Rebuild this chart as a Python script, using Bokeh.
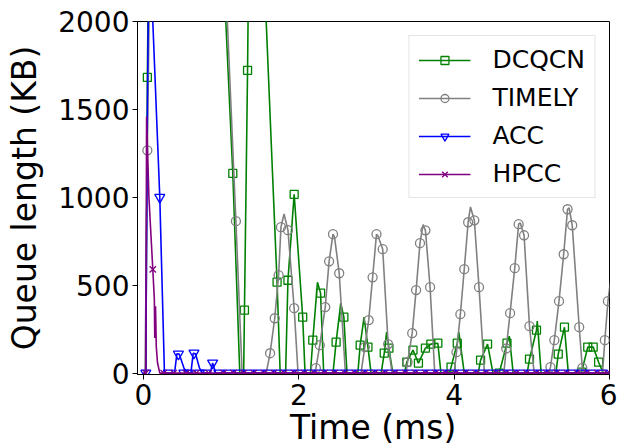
from bokeh.plotting import figure
from bokeh.models import Range1d, FixedTicker, Legend, LegendItem
from bokeh.layouts import column
from bokeh.core.properties import value
from bokeh.embed import file_html
from bokeh.resources import INLINE

# ---------------- data ----------------
# DCQCN line (ms, KB); values above 2000 are clipped by the frame
dcqcn_x = [0.0, 0.03, 0.05, 0.07, 1.0, 1.06, 1.15, 1.24, 1.29, 1.30, 1.34, 1.36, 1.55, 1.58, 1.66,
           1.72, 1.76, 1.83, 1.86, 1.94, 2.05, 2.08, 2.15, 2.18, 2.24, 2.28, 2.32, 2.44, 2.48,
           2.54, 2.58, 2.62, 2.76, 2.79, 2.84, 2.89, 2.93, 3.06, 3.10, 3.13, 3.16, 3.21, 3.36,
           3.39, 3.47, 3.54, 3.63, 3.70, 3.79, 3.83, 3.94, 3.96, 4.04, 4.06, 4.13, 4.31, 4.34,
           4.43, 4.50, 4.58, 4.68, 4.71, 4.76, 4.94, 4.97, 5.06, 5.07, 5.12, 5.31, 5.34, 5.42,
           5.47, 5.64, 5.72, 5.79, 5.86, 5.92, 6.05]
dcqcn_y = [0, 0, 1682, 2600, 2600, 2000, 1136, 0, 0, 358, 1722, 2600, 2600, 2000, 1150,
           517, 0, 0, 528, 1017, 318, 0, 0, 187, 517, 455, 0, 0, 176,
           398, 318, 0, 0, 159, 318, 148, 0, 0, 114, 233, 142, 0, 0,
           62, 131, 57, 142, 165, 170, 0, 0, 34, 170, 233, 0, 0, 74,
           165, 0, 0, 170, 210, 0, 0, 80, 244, 296, 0, 0, 108, 261,
           0, 5, 148, 148, 62, 0, 0]
dcqcn_mx = [0.05, 1.15, 1.30, 1.34, 1.72, 1.86, 1.94, 2.05, 2.18, 2.28, 2.48, 2.58, 2.79, 2.89,
            3.10, 3.16, 3.39, 3.47, 3.54, 3.63, 3.70, 3.79, 3.96, 4.04, 4.34, 4.43, 4.58, 4.68,
            4.97, 5.06, 5.34, 5.42, 5.64, 5.72, 5.79, 5.86]
dcqcn_my = [1682, 1136, 358, 1722, 517, 528, 1017, 318, 187, 455, 176, 318, 159, 148,
            114, 142, 62, 131, 57, 142, 165, 170, 34, 170, 74, 165, 0, 170,
            80, 244, 108, 261, 5, 148, 148, 62]

# TIMELY line
timely_x = [0.0, 0.02, 0.05, 0.09, 1.0, 1.08, 1.19, 1.27, 1.58, 1.63, 1.69, 1.74, 1.77, 1.81, 1.86,
            1.94, 1.99, 2.20, 2.22, 2.27, 2.34, 2.39, 2.44, 2.46, 2.52, 2.60, 2.80, 2.85, 2.90,
            2.95, 3.00, 3.02, 3.08, 3.15, 3.20, 3.38, 3.40, 3.46, 3.51, 3.56, 3.60, 3.63, 3.69,
            3.75, 4.00, 4.03, 4.08, 4.13, 4.18, 4.21, 4.26, 4.32, 4.39, 4.64, 4.67, 4.72, 4.78,
            4.83, 4.85, 4.90, 4.97, 5.03, 5.22, 5.24, 5.29, 5.35, 5.41, 5.46, 5.48, 5.52, 5.61,
            5.65, 5.67, 5.91, 5.94, 5.98, 6.05]
timely_y = [0, 0, 1267, 2600, 2600, 2000, 864, 0, 0, 113, 312, 557, 830, 905, 813,
            369, 0, 0, 28, 159, 375, 636, 790, 773, 568, 0, 0, 148, 301,
            545, 790, 780, 705, 165, 0, 0, 62, 227, 472, 739, 845, 812, 489,
            0, 0, 119, 335, 591, 858, 945, 869, 489, 0, 0, 140, 341, 597,
            847, 855, 784, 267, 0, 0, 34, 187, 409, 676, 932, 940, 841, 261,
            30, 0, 0, 187, 409, 650]
timely_mx = [0.05, 1.19, 1.63, 1.69, 1.74, 1.77, 1.86, 1.94, 2.22, 2.27, 2.34, 2.39, 2.44, 2.52,
             2.85, 2.90, 2.95, 3.00, 3.08, 3.15, 3.40, 3.46, 3.51, 3.56, 3.63, 3.69, 4.03, 4.08,
             4.13, 4.18, 4.26, 4.32, 4.67, 4.72, 4.78, 4.83, 4.90, 4.97, 5.24, 5.29, 5.35, 5.41,
             5.46, 5.52, 5.61, 5.65, 5.94, 5.98]
timely_my = [1267, 864, 113, 312, 557, 830, 813, 369, 28, 159, 375, 636, 790, 568,
             148, 301, 545, 790, 705, 165, 62, 227, 472, 739, 812, 489, 119, 335,
             591, 858, 869, 489, 140, 341, 597, 847, 784, 267, 34, 187, 409, 676,
             932, 841, 261, 30, 187, 409]

# ACC line
acc_x = [0.0, 0.03, 0.05, 0.07, 0.10, 0.12, 0.21, 0.27, 0.40, 0.43, 0.46, 0.52, 0.56, 0.61, 0.64,
         0.67, 0.72, 0.76, 0.86, 0.89, 0.93, 6.05]
acc_y = [0, 0, 1500, 2400, 2450, 2000, 1000, 0, 0, 110, 108, 30, 0, 0, 112,
         110, 30, 0, 0, 57, 0, 0]
acc_mx = [0.03, 0.21, 0.45, 0.65, 0.89]
acc_my = [0, 1000, 108, 114, 57]
acc_base_x = [0.32, 0.52, 0.58, 0.72, 0.80, 0.97, 1.10, 1.23, 1.36, 1.49, 1.62, 1.75, 1.88, 2.01,
              2.14, 2.27, 2.40, 2.53, 2.66, 2.79, 2.92, 3.05, 3.18, 3.31, 3.44, 3.57, 3.70, 3.83,
              3.96, 4.09, 4.22, 4.35, 4.48, 4.61, 4.74, 4.87, 5.00, 5.13, 5.26, 5.39, 5.52, 5.65,
              5.78, 5.91]

# HPCC line
hpcc_x = [0.0, 0.03, 0.04, 0.07, 0.12, 0.14, 0.145, 0.155, 0.165, 0.18, 0.21, 6.05]
hpcc_y = [0, 0, 1460, 1000, 590, 420, 200, 380, 150, 60, 0, 0]
hpcc_mx = [0.03, 0.12]
hpcc_my = [0, 590]
hpcc_base_x = [0.26, 0.39, 0.55, 0.68, 0.84, 1.03, 1.16, 1.29, 1.42, 1.55, 1.68, 1.81, 1.94, 2.07,
               2.20, 2.33, 2.46, 2.59, 2.72, 2.85, 2.98, 3.11, 3.24, 3.37, 3.50, 3.63, 3.76, 3.89,
               4.02, 4.15, 4.28, 4.41, 4.54, 4.67, 4.80, 4.93, 5.06, 5.19, 5.32, 5.45, 5.58, 5.71,
               5.84, 5.97]

x_ticks = [0, 2, 4, 6]
y_ticks = [0, 500, 1000, 1500, 2000]
series_names = ["DCQCN", "TIMELY", "ACC", "HPCC"]
x_title = "Time (ms)"
y_title = "Queue length (KB)"

# ---------------- main figure ----------------
FONT = "DejaVu Sans"
p = figure(width=617, height=446, x_range=Range1d(-0.077, 6.0), y_range=Range1d(-8, 2000),
           output_backend="svg", toolbar_location=None,
           min_border_left=137, min_border_right=8, min_border_top=21, min_border_bottom=72)
p.background_fill_color = "white"
p.border_fill_color = "white"
p.outline_line_color = "black"
p.outline_line_width = 1
p.grid.visible = False

for ax in (p.xaxis[0], p.yaxis[0]):
    ax.major_label_text_font = FONT
    ax.major_label_text_font_size = "28px"
    ax.major_label_text_color = "black"
    ax.axis_label_text_font = FONT
    ax.axis_label_text_font_size = "33px"
    ax.axis_label_text_font_style = "normal"
    ax.axis_label_text_color = "black"
    ax.major_tick_out = 5
    ax.major_tick_in = 0
    ax.minor_tick_out = 0
    ax.minor_tick_in = 0
    ax.axis_line_color = "black"
    ax.major_tick_line_color = "black"

p.xaxis.ticker = FixedTicker(ticks=x_ticks)
p.yaxis.ticker = FixedTicker(ticks=y_ticks)
p.yaxis.axis_label = y_title
p.xaxis.major_label_standoff = 4
p.yaxis.major_label_standoff = 3
p.yaxis.axis_label_standoff = 11

LW = 1.6
MS = 9

g_line = p.line(dcqcn_x, dcqcn_y, line_color="green", line_width=LW)
g_mark = p.scatter(dcqcn_mx, dcqcn_my, marker="square", size=MS - 1, line_color="green",
                   fill_color=None, line_width=1.3)

t_line = p.line(timely_x, timely_y, line_color="grey", line_width=LW)
t_mark = p.scatter(timely_mx, timely_my, marker="circle", size=MS, line_color="grey",
                   fill_color=None, line_width=1.3)

a_line = p.line(acc_x, acc_y, line_color="blue", line_width=LW)
a_mark = p.scatter(acc_mx, acc_my, marker="inverted_triangle", size=MS + 1, line_color="blue",
                   fill_color=None, line_width=1.3)
a_base = p.scatter(acc_base_x, [0] * len(acc_base_x), marker="inverted_triangle", size=MS + 1,
                   line_color="blue", fill_color=None, line_width=1.3)

h_line = p.line(hpcc_x, hpcc_y, line_color="purple", line_width=LW)
h_mark = p.scatter(hpcc_mx, hpcc_my, marker="x", size=MS, line_color="purple", line_width=1.3)
h_base = p.scatter(hpcc_base_x, [0] * len(hpcc_base_x), marker="x", size=MS,
                   line_color="purple", line_width=1.3)

legend = Legend(items=[
    LegendItem(label=series_names[0], renderers=[g_line, g_mark]),
    LegendItem(label=series_names[1], renderers=[t_line, t_mark]),
    LegendItem(label=series_names[2], renderers=[a_line, a_mark]),
    LegendItem(label=series_names[3], renderers=[h_line, h_mark]),
], location="top_right")
legend.margin = 14
legend.padding = 9
legend.spacing = 9
legend.glyph_width = 52
legend.glyph_height = 20
legend.label_standoff = 22
legend.label_text_font = FONT
legend.label_text_font_size = "25px"
legend.label_text_color = "black"
legend.border_line_color = "#cccccc"
legend.border_line_width = 1
legend.background_fill_color = "white"
legend.background_fill_alpha = 0.8
p.add_layout(legend)

# ---------------- transparent strip overlapping the bottom border: x-axis title ----------------
q = figure(width=617, height=44, x_range=Range1d(0, 617), y_range=Range1d(0, 44),
           output_backend="svg", toolbar_location=None,
           x_axis_location=None, y_axis_location=None,
           min_border_left=0, min_border_right=0, min_border_top=0, min_border_bottom=0)
q.grid.visible = False
q.outline_line_color = None
q.background_fill_alpha = 0
q.border_fill_alpha = 0
q.margin = (-44, 0, 0, 0)
q.text(x=[308], y=[19], text=[x_title], text_align="center", text_baseline="middle",
       text_font=value(FONT), text_font_size=value("33px"), text_color="black")

layout = column(p, q, spacing=0)
open("out.html", "w").write(file_html(layout, INLINE))
